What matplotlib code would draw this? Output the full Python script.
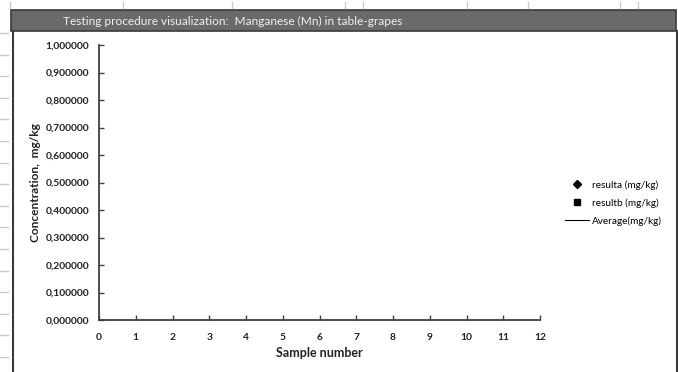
import matplotlib
matplotlib.use('Agg')
import matplotlib.pyplot as plt
from matplotlib.lines import Line2D
from matplotlib.patches import Rectangle
from matplotlib.ticker import FuncFormatter
import numpy as np

# chart data (the reference shows an empty chart: no samples plotted)
sample_number = []
result_a = []
result_b = []
average = []

title = 'Testing procedure visualization:  Manganese (Mn) in table-grapes'
series_labels = ['resulta (mg/kg)', 'resultb (mg/kg)', 'Average(mg/kg)']
x_ticks = list(range(0, 13))
y_ticks = [0.0, 0.1, 0.2, 0.3, 0.4, 0.5, 0.6, 0.7, 0.8, 0.9, 1.0]

plt.rcParams['font.family'] = ['Lato', 'DejaVu Sans']

W, H = 678, 372
fig = plt.figure(figsize=(W / 100, H / 100), dpi=100)

def fx(px):
    return px / W

def fy(py):
    return 1 - py / H

# spreadsheet ruler / row marks around the chart object
for xp in [10, 123, 232, 345, 363, 467, 528, 620, 638]:
    fig.add_artist(Line2D([fx(xp), fx(xp)], [fy(2), fy(8)], color='#c8c8c8', lw=1))
for yp in np.arange(33, 372, 21.6):
    fig.add_artist(Line2D([fx(0), fx(8)], [fy(yp), fy(yp)], color='#c8c8c8', lw=1))

# chart frame and title bar
fig.add_artist(Line2D([fx(12.5), fx(12.5)], [fy(31), fy(372)], color='#3a3a3a', lw=1.5))
fig.add_artist(Line2D([fx(676.5), fx(676.5)], [fy(31), fy(372)], color='#3a3a3a', lw=1.5))
fig.add_artist(Rectangle((fx(11), fy(31)), fx(676) - fx(11), fy(10) - fy(31),
                         facecolor='#6a6a6a', edgecolor='#3a3a3a', lw=1.2,
                         transform=fig.transFigure))
fig.text(fx(63), fy(21), title, color='#f0f0f0', fontsize=8.6, va='center', ha='left')

ax = fig.add_axes([fx(99), fy(320), fx(540) - fx(99), fy(45) - fy(320)])
ax.plot(sample_number, result_a, 'D', color='black', markersize=4, label=series_labels[0])
ax.plot(sample_number, result_b, 's', color='black', markersize=5, label=series_labels[1])
ax.plot(sample_number, average, '-', color='black', lw=0.8, label=series_labels[2])

ax.set_xlim(0, 12)
ax.set_ylim(0, 1)
ax.set_xticks(x_ticks)
ax.set_yticks(y_ticks)
ax.yaxis.set_major_formatter(FuncFormatter(lambda v, p: ('%.6f' % v).replace('.', ',')))
for s in ['top', 'right']:
    ax.spines[s].set_visible(False)
for s in ['left', 'bottom']:
    ax.spines[s].set_color('#404040')
    ax.spines[s].set_linewidth(1.3)
ax.tick_params(direction='in', length=3.5, width=1, color='#404040',
               labelsize=7.4, labelcolor='#222222')
ax.tick_params(axis='y', pad=7)
ax.tick_params(axis='x', pad=9)
for lbl in ax.get_xticklabels() + ax.get_yticklabels():
    lbl.set_fontweight('bold')

ax.set_xlabel('Sample number', fontsize=9, fontweight='bold', labelpad=4, color='#222222')
ax.set_ylabel('Concentration,  mg/kg', fontsize=8.6, fontweight='bold', labelpad=3, color='#222222')

fig.legend(loc='center left', bbox_to_anchor=(fx(556), fy(203)), frameon=False,
           fontsize=7.2, handlelength=2.4, labelspacing=0.85, handletextpad=0.3)

fig.savefig('out.png', dpi=100)
